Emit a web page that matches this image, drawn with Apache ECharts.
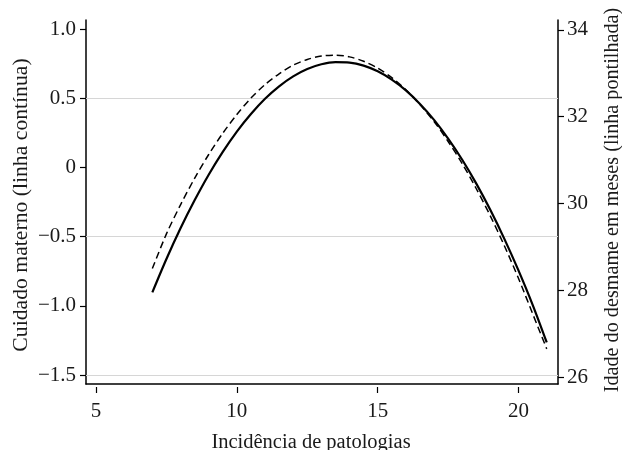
<!DOCTYPE html>
<html>
<head>
<meta charset="utf-8">
<script src="https://cdn.jsdelivr.net/npm/echarts@6/dist/echarts.min.js"></script>
<style>html,body{margin:0;padding:0;background:#fff}#c{width:622px;height:450px}</style>
</head>
<body>
<div id="c"></div>
<script>
// Data
const xValues = [7, 7.5, 8, 8.5, 9, 9.5, 10, 10.5, 11, 11.5, 12, 12.5, 13, 13.5, 14, 14.5, 15, 15.5, 16, 16.5, 17, 17.5, 18, 18.5, 19, 19.5, 20, 20.5, 21];
const cuidadoMaterno = [-0.903, -0.662, -0.44, -0.238, -0.053, 0.112, 0.259, 0.386, 0.496, 0.586, 0.658, 0.711, 0.745, 0.760, 0.757, 0.735, 0.694, 0.634, 0.556, 0.458, 0.343, 0.208, 0.055, -0.117, -0.308, -0.518, -0.746, -0.993, -1.265];
const idadeDesmame = [28.50, 29.30, 29.97, 30.58, 31.13, 31.62, 32.05, 32.43, 32.74, 32.99, 33.19, 33.32, 33.40, 33.42, 33.38, 33.28, 33.12, 32.90, 32.62, 32.28, 31.89, 31.43, 30.92, 30.34, 29.71, 29.02, 28.27, 27.46, 26.65];
const xTicks = [5, 10, 15, 20];
const leftTicks = [-1.5, -1.0, -0.5, 0, 0.5, 1.0];
const rightTicks = [26, 28, 30, 32, 34];
const gridValues = [0.5, -0.5, -1.5];

const FONT = '"Liberation Serif", "Times New Roman", serif';
const TXT = '#1a1a1a';

function fmtLeft(v) {
  if (Math.abs(v) < 1e-9) return '0';
  const s = Math.abs(v).toFixed(1);
  return (v < 0 ? '\u2212' : '') + s;
}

const chart = echarts.init(document.getElementById('c'), null, {renderer: 'canvas'});
chart.setOption({
  animation: false,
  backgroundColor: '#fff',
  grid: {left: 86, right: 64, top: 20, bottom: 66, containLabel: false},
  xAxis: [
    {
      type: 'value', min: 4.645, max: 21.4, position: 'bottom',
      axisLine: {show: true, onZero: false, lineStyle: {color: '#000', width: 1.5}},
      axisTick: {show: false}, axisLabel: {show: false}, splitLine: {show: false}
    },
    {
      type: 'value', min: 4.645, max: 21.4, position: 'bottom', offset: 3,
      axisLine: {show: false, onZero: false},
      axisTick: {show: true, length: 6, customValues: xTicks, lineStyle: {color: '#000', width: 1.2}},
      axisLabel: {show: true, customValues: xTicks, margin: 14, fontFamily: FONT, fontSize: 21, color: TXT},
      splitLine: {show: false}
    }
  ],
  yAxis: [
    {
      type: 'value', min: -1.565, max: 1.065, position: 'left',
      axisLine: {show: true, onZero: false, lineStyle: {color: '#000', width: 1.5}},
      axisTick: {show: true, length: 6, customValues: leftTicks, lineStyle: {color: '#000', width: 1.2}},
      axisLabel: {show: true, customValues: leftTicks, margin: 10, fontFamily: FONT, fontSize: 21, color: TXT, formatter: fmtLeft},
      splitLine: {show: false}
    },
    {
      type: 'value', min: 25.84, max: 34.23, position: 'right',
      axisLine: {show: true, onZero: false, lineStyle: {color: '#000', width: 1.5}},
      axisTick: {show: true, length: 6, customValues: rightTicks, lineStyle: {color: '#000', width: 1.2}},
      axisLabel: {show: true, customValues: rightTicks, margin: 9, fontFamily: FONT, fontSize: 21, color: TXT},
      splitLine: {show: false}
    }
  ],
  series: [
    {
      name: 'Cuidado materno', type: 'line', xAxisIndex: 0, yAxisIndex: 0,
      data: xValues.map((x, i) => [x, cuidadoMaterno[i]]),
      smooth: 0.3, showSymbol: false, symbol: 'none',
      lineStyle: {color: '#000', width: 2.2, type: 'solid'},
      z: 3,
      markLine: {
        silent: true, symbol: 'none', label: {show: false},
        lineStyle: {color: '#d6d6d6', width: 1.2, type: 'solid'},
        data: gridValues.map(v => ({yAxis: v})),
        z: 1
      }
    },
    {
      name: 'Idade do desmame', type: 'line', xAxisIndex: 0, yAxisIndex: 1,
      data: xValues.map((x, i) => [x, idadeDesmame[i]]),
      smooth: 0.3, showSymbol: false, symbol: 'none',
      lineStyle: {color: '#000', width: 1.5, type: [7, 4]},
      z: 4
    }
  ],
  graphic: [
    {type: 'text', x: 21, y: 205, rotation: Math.PI / 2,
     style: {text: 'Cuidado materno (linha contínua)', fontFamily: FONT, fontSize: 21.7, fill: TXT, align: 'center', verticalAlign: 'middle'}},
    {type: 'text', x: 613, y: 200, rotation: Math.PI / 2,
     style: {text: 'Idade do desmame em meses (linha pontilhada)', fontFamily: FONT, fontSize: 20.2, fill: TXT, align: 'center', verticalAlign: 'middle'}},
    {type: 'text', x: 311, y: 443,
     style: {text: 'Incidência de patologias', fontFamily: FONT, fontSize: 20.5, fill: TXT, align: 'center', verticalAlign: 'middle'}}
  ]
});
</script>
</body>
</html>
